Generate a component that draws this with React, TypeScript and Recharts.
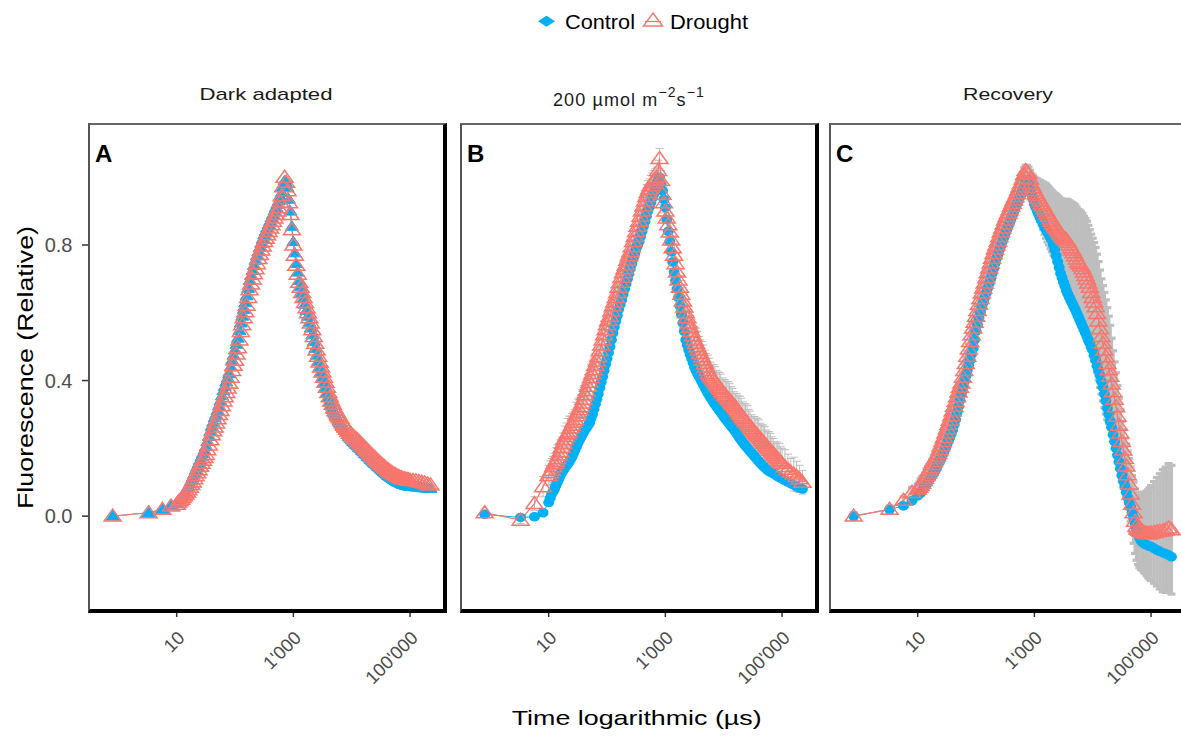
import React from "react";
import { ComposedChart, Line, XAxis, YAxis, ErrorBar } from "recharts";

// ---- data -------------------------------------------------------------
const TIMES_US = [
  0.8, 3.3, 5.7, 8,
  10, 10.6, 11.2, 11.9, 12.6, 13.3, 14.1, 15, 15.8, 16.8,
  17.8, 18.8, 20, 21.1, 22.4, 23.7, 25.1, 26.6, 28.2, 29.9,
  31.6, 33.5, 35.5, 37.6, 39.8, 42.2, 44.7, 47.3, 50.1, 53.1,
  56.2, 59.6, 63.1, 66.8, 70.8, 75, 79.4, 84.1, 89.1, 94.4,
  100, 106, 112, 119, 126, 133, 141, 150, 158, 168,
  178, 188, 200, 211, 224, 237, 251, 266, 282, 299,
  316, 335, 355, 376, 398, 422, 447, 473, 501, 531,
  562, 596, 631, 668, 708, 750, 794, 841, 891, 944,
  1000, 1059, 1122, 1189, 1259, 1334, 1413, 1496, 1585, 1679,
  1778, 1884, 1995, 2113, 2239, 2371, 2512, 2661, 2818, 2985,
  3162, 3350, 3548, 3758, 3981, 4217, 4467, 4732, 5012, 5309,
  5623, 5957, 6310, 6683, 7079, 7499, 7943, 8414, 8913, 9441,
  10000, 10593, 11220, 11885, 12589, 13335, 14125, 14962, 15849, 16788,
  17783, 18836, 19953, 21135, 22387, 23714, 25119, 26607, 28184, 29854,
  31623, 33497, 35481, 37584, 39811, 42170, 44668, 47315, 50119, 53088,
  56234, 59566, 63096, 66834, 70795, 74989, 79433, 84140, 89125, 94406,
  100000, 112202, 125893, 141254, 158489, 177828, 199526, 223872,
];

const A_CONTROL = [
  0.0, 0.01, 0.02, 0.03,
  0.04, 0.045, 0.05, 0.055, 0.06, 0.066, 0.072, 0.08, 0.088, 0.096,
  0.105, 0.115, 0.125, 0.135, 0.145, 0.155, 0.165, 0.175, 0.185, 0.195,
  0.205, 0.22, 0.235, 0.25, 0.265, 0.277, 0.29, 0.3, 0.312, 0.326,
  0.34, 0.355, 0.37, 0.383, 0.396, 0.408, 0.42, 0.44, 0.46, 0.475,
  0.49, 0.507, 0.525, 0.548, 0.57, 0.59, 0.61, 0.63, 0.65, 0.672,
  0.695, 0.71, 0.725, 0.74, 0.755, 0.768, 0.78, 0.793, 0.805, 0.818,
  0.83, 0.84, 0.85, 0.86, 0.87, 0.88, 0.89, 0.9, 0.91, 0.92,
  0.93, 0.942, 0.955, 0.972, 0.99, 0.982, 0.97, 0.935, 0.9, 0.855,
  0.81, 0.777, 0.745, 0.72, 0.695, 0.678, 0.66, 0.642, 0.625, 0.607,
  0.59, 0.572, 0.555, 0.535, 0.515, 0.495, 0.475, 0.457, 0.44, 0.425,
  0.41, 0.395, 0.38, 0.365, 0.35, 0.337, 0.325, 0.315, 0.305, 0.297,
  0.29, 0.282, 0.275, 0.267, 0.26, 0.253, 0.247, 0.241, 0.235, 0.23,
  0.225, 0.22, 0.216, 0.212, 0.208, 0.203, 0.199, 0.194, 0.19, 0.185,
  0.181, 0.176, 0.172, 0.167, 0.163, 0.159, 0.155, 0.151, 0.147, 0.143,
  0.139, 0.135, 0.131, 0.127, 0.124, 0.12, 0.117, 0.114, 0.111, 0.108,
  0.105, 0.102, 0.1, 0.098, 0.096, 0.094, 0.093, 0.091, 0.09, 0.089,
  0.088, 0.087, 0.086, 0.085, 0.084, 0.083, 0.082, 0.082,
];
const A_DROUGHT = [
  0.0, 0.01, 0.02, 0.03,
  0.035, 0.04, 0.045, 0.05, 0.055, 0.06, 0.065, 0.071, 0.078, 0.085,
  0.093, 0.101, 0.11, 0.119, 0.128, 0.137, 0.147, 0.156, 0.165, 0.173,
  0.182, 0.196, 0.21, 0.225, 0.24, 0.252, 0.263, 0.275, 0.287, 0.3,
  0.312, 0.326, 0.34, 0.352, 0.365, 0.378, 0.392, 0.41, 0.43, 0.445,
  0.46, 0.478, 0.497, 0.52, 0.545, 0.565, 0.585, 0.603, 0.622, 0.645,
  0.668, 0.685, 0.7, 0.715, 0.73, 0.745, 0.76, 0.772, 0.785, 0.797,
  0.81, 0.82, 0.83, 0.84, 0.85, 0.86, 0.87, 0.88, 0.89, 0.9,
  0.91, 0.927, 0.945, 0.972, 1.0, 0.985, 0.96, 0.925, 0.89, 0.845,
  0.8, 0.77, 0.74, 0.714, 0.69, 0.675, 0.66, 0.645, 0.63, 0.615,
  0.6, 0.585, 0.57, 0.55, 0.53, 0.51, 0.49, 0.472, 0.455, 0.44,
  0.425, 0.41, 0.395, 0.38, 0.365, 0.352, 0.34, 0.33, 0.32, 0.312,
  0.305, 0.297, 0.29, 0.282, 0.275, 0.268, 0.262, 0.256, 0.25, 0.245,
  0.24, 0.236, 0.232, 0.228, 0.225, 0.22, 0.216, 0.211, 0.207, 0.202,
  0.198, 0.193, 0.189, 0.184, 0.18, 0.176, 0.172, 0.167, 0.163, 0.159,
  0.155, 0.151, 0.147, 0.143, 0.14, 0.136, 0.133, 0.13, 0.127, 0.124,
  0.122, 0.119, 0.117, 0.115, 0.113, 0.111, 0.11, 0.109, 0.108, 0.107,
  0.106, 0.105, 0.104, 0.102, 0.1, 0.098, 0.095, 0.092,
];

const B_CONTROL = [
  0.005, -0.004, -0.002, 0.01,
  0.04, 0.053, 0.065, 0.072, 0.08, 0.09, 0.1, 0.11, 0.12, 0.128,
  0.135, 0.142, 0.148, 0.154, 0.16, 0.167, 0.175, 0.185, 0.195, 0.205,
  0.215, 0.224, 0.232, 0.24, 0.248, 0.255, 0.262, 0.268, 0.275, 0.288,
  0.3, 0.315, 0.33, 0.345, 0.36, 0.378, 0.395, 0.412, 0.43, 0.448,
  0.465, 0.482, 0.5, 0.52, 0.54, 0.558, 0.575, 0.592, 0.61, 0.624,
  0.638, 0.654, 0.67, 0.685, 0.7, 0.715, 0.73, 0.745, 0.76, 0.775,
  0.79, 0.8, 0.81, 0.825, 0.84, 0.855, 0.87, 0.885, 0.9, 0.912,
  0.925, 0.938, 0.95, 0.962, 0.975, 0.988, 1.0, 0.98, 0.96, 0.935,
  0.91, 0.875, 0.84, 0.81, 0.78, 0.75, 0.72, 0.695, 0.67, 0.645,
  0.62, 0.595, 0.57, 0.545, 0.52, 0.505, 0.49, 0.477, 0.465, 0.452,
  0.44, 0.43, 0.421, 0.413, 0.405, 0.396, 0.388, 0.38, 0.372, 0.364,
  0.357, 0.35, 0.343, 0.336, 0.33, 0.324, 0.318, 0.312, 0.306, 0.3,
  0.294, 0.288, 0.283, 0.277, 0.272, 0.266, 0.261, 0.255, 0.25, 0.243,
  0.237, 0.23, 0.224, 0.218, 0.213, 0.207, 0.202, 0.197, 0.192, 0.187,
  0.182, 0.177, 0.172, 0.167, 0.162, 0.157, 0.153, 0.148, 0.144, 0.14,
  0.136, 0.133, 0.13, 0.128, 0.126, 0.123, 0.12, 0.117, 0.115, 0.112,
  0.11, 0.105, 0.1, 0.096, 0.092, 0.087, 0.083, 0.08,
];
const B_DROUGHT = [
  0.01, -0.012, 0.037, 0.087,
  0.12, 0.128, 0.135, 0.146, 0.155, 0.162, 0.17, 0.18, 0.19, 0.203,
  0.215, 0.226, 0.235, 0.243, 0.25, 0.26, 0.268, 0.277, 0.285, 0.296,
  0.305, 0.314, 0.323, 0.334, 0.345, 0.358, 0.37, 0.383, 0.395, 0.408,
  0.42, 0.432, 0.445, 0.458, 0.47, 0.488, 0.505, 0.52, 0.535, 0.55,
  0.565, 0.578, 0.59, 0.605, 0.62, 0.632, 0.645, 0.66, 0.675, 0.69,
  0.705, 0.718, 0.73, 0.742, 0.755, 0.768, 0.78, 0.795, 0.81, 0.825,
  0.84, 0.855, 0.87, 0.885, 0.9, 0.915, 0.93, 0.943, 0.955, 0.965,
  0.975, 0.983, 0.99, 0.995, 1.0, 1.02, 1.055, 0.99, 0.95, 0.925,
  0.9, 0.88, 0.86, 0.838, 0.815, 0.792, 0.77, 0.745, 0.72, 0.697,
  0.675, 0.655, 0.635, 0.617, 0.6, 0.585, 0.57, 0.557, 0.545, 0.532,
  0.52, 0.51, 0.5, 0.49, 0.48, 0.47, 0.46, 0.45, 0.44, 0.43,
  0.421, 0.414, 0.408, 0.402, 0.396, 0.39, 0.385, 0.379, 0.374, 0.368,
  0.363, 0.357, 0.352, 0.347, 0.342, 0.337, 0.332, 0.327, 0.322, 0.316,
  0.31, 0.304, 0.298, 0.292, 0.287, 0.281, 0.276, 0.27, 0.265, 0.259,
  0.254, 0.249, 0.244, 0.239, 0.234, 0.229, 0.224, 0.219, 0.214, 0.209,
  0.204, 0.199, 0.194, 0.189, 0.184, 0.179, 0.174, 0.169, 0.164, 0.16,
  0.155, 0.146, 0.138, 0.13, 0.124, 0.117, 0.11, 0.1,
];
const B_DROUGHT_SE = [
  0.01, 0.01, 0.02, 0.03,
  0.03, 0.035, 0.035, 0.03, 0.03, 0.04, 0.04, 0.035, 0.035, 0.03,
  0.03, 0.04, 0.04, 0.045, 0.045, 0.035, 0.035, 0.03, 0.03, 0.04,
  0.04, 0.035, 0.035, 0.04, 0.04, 0.03, 0.03, 0.035, 0.035, 0.04,
  0.04, 0.035, 0.035, 0.03, 0.03, 0.035, 0.035, 0.04, 0.04, 0.035,
  0.035, 0.03, 0.03, 0.035, 0.035, 0.04, 0.04, 0.03, 0.03, 0.035,
  0.035, 0.03, 0.03, 0.04, 0.04, 0.035, 0.035, 0.03, 0.03, 0.03,
  0.03, 0.035, 0.035, 0.03, 0.03, 0.03, 0.03, 0.035, 0.035, 0.03,
  0.03, 0.03, 0.03, 0.03, 0.03, 0.03, 0.03, 0.03, 0.03, 0.03,
  0.03, 0.035, 0.035, 0.03, 0.03, 0.035, 0.035, 0.03, 0.03, 0.035,
  0.035, 0.04, 0.04, 0.035, 0.035, 0.04, 0.04, 0.035, 0.035, 0.04,
  0.04, 0.045, 0.045, 0.04, 0.04, 0.045, 0.045, 0.04, 0.04, 0.045,
  0.045, 0.04, 0.04, 0.045, 0.045, 0.04, 0.04, 0.045, 0.045, 0.04,
  0.04, 0.045, 0.045, 0.05, 0.05, 0.045, 0.045, 0.04, 0.04, 0.045,
  0.045, 0.05, 0.05, 0.045, 0.045, 0.05, 0.05, 0.045, 0.045, 0.04,
  0.04, 0.045, 0.045, 0.05, 0.05, 0.045, 0.045, 0.05, 0.05, 0.045,
  0.045, 0.05, 0.05, 0.045, 0.045, 0.04, 0.04, 0.05, 0.05, 0.045,
  0.045, 0.05, 0.045, 0.04, 0.05, 0.045, 0.04, 0.035,
];

const C_CONTROL = [
  0.0, 0.02, 0.03, 0.045,
  0.06, 0.064, 0.068, 0.074, 0.08, 0.086, 0.093, 0.1, 0.107, 0.113,
  0.12, 0.127, 0.135, 0.143, 0.152, 0.161, 0.17, 0.18, 0.19, 0.2,
  0.21, 0.221, 0.232, 0.243, 0.255, 0.27, 0.285, 0.304, 0.323, 0.342,
  0.362, 0.38, 0.397, 0.413, 0.43, 0.445, 0.46, 0.478, 0.495, 0.52,
  0.545, 0.565, 0.585, 0.601, 0.617, 0.631, 0.645, 0.658, 0.672, 0.686,
  0.7, 0.715, 0.73, 0.745, 0.76, 0.772, 0.785, 0.797, 0.81, 0.822,
  0.833, 0.844, 0.855, 0.866, 0.877, 0.888, 0.9, 0.91, 0.92, 0.93,
  0.94, 0.95, 0.96, 0.972, 0.985, 0.983, 0.98, 0.965, 0.95, 0.935,
  0.92, 0.91, 0.9, 0.89, 0.88, 0.871, 0.862, 0.853, 0.845, 0.837,
  0.83, 0.822, 0.815, 0.8, 0.785, 0.768, 0.75, 0.733, 0.716, 0.703,
  0.69, 0.678, 0.665, 0.655, 0.645, 0.636, 0.627, 0.618, 0.61, 0.6,
  0.59, 0.58, 0.57, 0.56, 0.55, 0.54, 0.53, 0.52, 0.51, 0.498,
  0.49, 0.475, 0.46, 0.443, 0.43, 0.415, 0.397, 0.38, 0.36, 0.34,
  0.318, 0.3, 0.28, 0.262, 0.24, 0.22, 0.2, 0.18, 0.16, 0.14,
  0.12, 0.103, 0.087, 0.07, 0.055, 0.04, 0.027, 0.01, -0.005, -0.02,
  -0.035, -0.048, -0.062, -0.072, -0.077, -0.08, -0.083, -0.085, -0.087, -0.089,
  -0.09, -0.095, -0.1, -0.104, -0.108, -0.111, -0.115, -0.12,
];
const C_DROUGHT = [
  0.0, 0.02, 0.047, 0.07,
  0.08, 0.085, 0.09, 0.097, 0.105, 0.112, 0.12, 0.127, 0.135, 0.143,
  0.152, 0.161, 0.17, 0.177, 0.185, 0.196, 0.208, 0.22, 0.232, 0.245,
  0.258, 0.27, 0.283, 0.296, 0.31, 0.324, 0.338, 0.352, 0.366, 0.38,
  0.393, 0.41, 0.43, 0.45, 0.472, 0.493, 0.515, 0.535, 0.555, 0.572,
  0.59, 0.607, 0.625, 0.642, 0.658, 0.673, 0.688, 0.703, 0.718, 0.732,
  0.747, 0.761, 0.775, 0.788, 0.8, 0.812, 0.825, 0.838, 0.85, 0.862,
  0.874, 0.884, 0.894, 0.904, 0.914, 0.923, 0.933, 0.942, 0.952, 0.962,
  0.972, 0.983, 0.995, 1.008, 1.02, 1.015, 1.01, 0.995, 0.98, 0.97,
  0.96, 0.952, 0.945, 0.937, 0.93, 0.922, 0.915, 0.907, 0.9, 0.892,
  0.885, 0.877, 0.87, 0.863, 0.857, 0.851, 0.845, 0.838, 0.832, 0.827,
  0.822, 0.818, 0.815, 0.808, 0.8, 0.792, 0.785, 0.777, 0.768, 0.759,
  0.75, 0.745, 0.738, 0.73, 0.72, 0.71, 0.7, 0.688, 0.675, 0.66,
  0.645, 0.632, 0.618, 0.598, 0.576, 0.553, 0.53, 0.51, 0.49, 0.47,
  0.45, 0.432, 0.413, 0.39, 0.368, 0.345, 0.323, 0.295, 0.268, 0.245,
  0.22, 0.195, 0.17, 0.148, 0.122, 0.095, 0.065, 0.035, 0.01, -0.015,
  -0.03, -0.038, -0.042, -0.044, -0.045, -0.048, -0.05, -0.051, -0.052, -0.051,
  -0.05, -0.048, -0.046, -0.045, -0.043, -0.04, -0.035, -0.04,
];
const C_DROUGHT_SE = [
  0.01, 0.01, 0.01, 0.015,
  0.015, 0.015, 0.02, 0.02, 0.015, 0.015, 0.02, 0.02, 0.015, 0.015,
  0.015, 0.015, 0.02, 0.02, 0.015, 0.015, 0.02, 0.02, 0.015, 0.015,
  0.015, 0.015, 0.02, 0.02, 0.015, 0.015, 0.02, 0.02, 0.015, 0.015,
  0.015, 0.015, 0.02, 0.02, 0.015, 0.015, 0.02, 0.02, 0.015, 0.015,
  0.015, 0.015, 0.02, 0.02, 0.015, 0.015, 0.02, 0.02, 0.015, 0.015,
  0.015, 0.015, 0.02, 0.02, 0.015, 0.015, 0.02, 0.02, 0.015, 0.015,
  0.015, 0.015, 0.02, 0.02, 0.015, 0.015, 0.02, 0.02, 0.015, 0.015,
  0.015, 0.015, 0.02, 0.02, 0.015, 0.02, 0.02, 0.025, 0.03, 0.035,
  0.04, 0.045, 0.05, 0.055, 0.06, 0.065, 0.07, 0.075, 0.08, 0.083,
  0.085, 0.088, 0.09, 0.093, 0.095, 0.098, 0.1, 0.103, 0.105, 0.108,
  0.11, 0.115, 0.12, 0.125, 0.13, 0.135, 0.14, 0.145, 0.15, 0.153,
  0.155, 0.158, 0.16, 0.163, 0.165, 0.168, 0.17, 0.17, 0.17, 0.172,
  0.175, 0.175, 0.175, 0.175, 0.175, 0.173, 0.17, 0.17, 0.17, 0.168,
  0.165, 0.158, 0.15, 0.135, 0.12, 0.11, 0.1, 0.09, 0.08, 0.07,
  0.06, 0.06, 0.06, 0.065, 0.07, 0.075, 0.08, 0.085, 0.09, 0.095,
  0.1, 0.105, 0.11, 0.113, 0.115, 0.118, 0.12, 0.125, 0.13, 0.135,
  0.14, 0.15, 0.16, 0.17, 0.18, 0.185, 0.19, 0.19,
];

const X_TICKS = [10, 1000, 100000];
const X_TICK_LABELS = ["10", "1'000", "100'000"];
const Y_TICKS = [0, 0.4, 0.8];
const Y_TICK_LABELS = ["0.0", "0.4", "0.8"];
const X_DOMAIN = [0.314, 367000];
const Y_DOMAIN = [-0.277, 1.157];

const SERIES_NAMES = ["Control", "Drought"];
const PANEL_LETTERS = ["A", "B", "C"];

// ---- style ------------------------------------------------------------
const BLUE = "#00B0F6";
const RED = "#F8766D";
const GREY = "#BEBEBE";
const FONT = '"Liberation Sans", Arial, sans-serif';

type Row = { t: number; c: number; d: number; e: number };
const makeRows = (c: number[], d: number[], e?: number[]): Row[] =>
  TIMES_US.map((t, i) => ({ t, c: c[i], d: d[i], e: e ? e[i] : 0 }));

const PANELS = [
  { letter: PANEL_LETTERS[0], offset: 0, rows: makeRows(A_CONTROL, A_DROUGHT), err: false, ctrlShape: "tri", errW: 1.5 },
  { letter: PANEL_LETTERS[1], offset: 372, rows: makeRows(B_CONTROL, B_DROUGHT, B_DROUGHT_SE), err: true, ctrlShape: "circle", errW: 1 },
  { letter: PANEL_LETTERS[2], offset: 741, rows: makeRows(C_CONTROL, C_DROUGHT, C_DROUGHT_SE), err: true, ctrlShape: "circle", errW: 3.2 },
];

const OpenTri = (p: any) => {
  const { cx, cy, index } = p;
  if (cx == null || cy == null) return <g key={`t-${index}`} />;
  return (
    <path
      key={`t-${index}`}
      d={`M${cx},${cy - 7} L${cx + 8.5},${cy + 5} L${cx - 8.5},${cy + 5} Z`}
      fill="none"
      stroke={RED}
      strokeWidth={1.5}
    />
  );
};
const FilledTri = (p: any) => {
  const { cx, cy, index } = p;
  if (cx == null || cy == null) return <g key={`f-${index}`} />;
  return (
    <path
      key={`f-${index}`}
      d={`M${cx},${cy - 5.5} L${cx + 6.5},${cy + 4} L${cx - 6.5},${cy + 4} Z`}
      fill={BLUE}
      stroke={BLUE}
      strokeWidth={1}
    />
  );
};
const BlueDot = (p: any) => {
  const { cx, cy, index } = p;
  if (cx == null || cy == null) return <g key={`c-${index}`} />;
  return <ellipse key={`c-${index}`} cx={cx} cy={cy} rx={5.5} ry={4.8} fill={BLUE} />;
};

const XTick = (props: any) => {
  const { x, y, payload } = props;
  const i = X_TICKS.indexOf(payload.value);
  const ax = x + 9;
  const ay = y + 20;
  return (
    <text x={ax} y={ay} transform={`rotate(-45 ${ax} ${ay})`} textAnchor="end" fontSize={18.5} fill="#4d4d4d" fontFamily={FONT}>
      {X_TICK_LABELS[i]}
    </text>
  );
};
const YTick = (props: any) => {
  const { x, y, payload } = props;
  const i = Y_TICKS.indexOf(payload.value);
  return (
    <text x={x - 7.5} y={y} dy="0.36em" textAnchor="end" fontSize={20} fill="#4d4d4d" fontFamily={FONT}>
      {Y_TICK_LABELS[i]}
    </text>
  );
};

const Panel = ({ panel, showY }: { panel: (typeof PANELS)[number]; showY: boolean }) => (
  <div style={{ position: "absolute", left: panel.offset, top: 0, width: 453, height: 738 }}>
    <ComposedChart width={453} height={738} data={panel.rows} margin={{ top: 124, right: 10, bottom: 68, left: 0 }}>
      <XAxis
        dataKey="t"
        type="number"
        scale="log"
        domain={X_DOMAIN}
        allowDataOverflow
        ticks={X_TICKS}
        interval={0}
        tick={<XTick />}
        tickSize={7}
        tickLine={{ stroke: "#333", strokeWidth: 1.5 }}
        axisLine={false}
        height={60}
      />
      <YAxis
        type="number"
        domain={Y_DOMAIN}
        allowDataOverflow
        ticks={Y_TICKS}
        interval={0}
        width={89}
        tick={showY ? <YTick /> : false}
        tickSize={7}
        tickLine={showY ? { stroke: "#333", strokeWidth: 1.5 } : false}
        axisLine={false}
      />
      {panel.err && (
        <Line dataKey="d" stroke="none" dot={false} activeDot={false} isAnimationActive={false} legendType="none">
          <ErrorBar dataKey="e" direction="y" width={4} stroke={GREY} strokeWidth={panel.errW} />
        </Line>
      )}
      <Line
        name={SERIES_NAMES[0]}
        dataKey="c"
        type="linear"
        stroke={BLUE}
        strokeWidth={1}
        dot={panel.ctrlShape === "tri" ? (p: any) => <FilledTri {...p} key={`f-${p.index}`} /> : (p: any) => <BlueDot {...p} key={`c-${p.index}`} />}
        activeDot={false}
        isAnimationActive={false}
      />
      <Line
        name={SERIES_NAMES[1]}
        dataKey="d"
        type="linear"
        stroke={RED}
        strokeWidth={1.2}
        dot={(p: any) => <OpenTri {...p} key={`t-${p.index}`} />}
        activeDot={false}
        isAnimationActive={false}
      />
    </ComposedChart>
    <div
      style={{
        position: "absolute",
        left: 88,
        top: 123,
        width: 359,
        height: 490,
        boxSizing: "border-box",
        borderTop: "2px solid #666",
        borderLeft: "2px solid #555",
        borderRight: "4px solid #000",
        borderBottom: "4px solid #000",
        pointerEvents: "none",
      }}
    />
    <svg width={453} height={738} style={{ position: "absolute", left: 0, top: 0, pointerEvents: "none" }}>
      <text x={95} y={162} fontSize={24} fontWeight="bold" fill="#000" fontFamily={FONT}>
        {panel.letter}
      </text>
    </svg>
  </div>
);

export default function App() {
  return (
    <div
      style={{
        position: "absolute",
        left: 0,
        top: 0,
        width: 1181,
        height: 738,
        overflow: "hidden",
        background: "#fff",
        fontFamily: FONT,
      }}
    >
      <svg width={1181} height={738} style={{ position: "absolute", left: 0, top: 0 }}>
        {/* legend */}
        <path d="M538,21.3 L546.5,15.8 L555,21.3 L546.5,26.8 Z" fill={BLUE} />
        <text x={565} y={28.5} fontSize={20} fill="#000" textLength={70} lengthAdjust="spacingAndGlyphs" fontFamily={FONT}>
          {SERIES_NAMES[0]}
        </text>
        <path d="M653,13 L662.5,26 L643.5,26 Z" fill="none" stroke={RED} strokeWidth={1.4} />
        <line x1={645} y1={21.5} x2={661} y2={21.5} stroke={RED} strokeWidth={1.2} />
        <text x={670} y={28.5} fontSize={20} fill="#000" textLength={78} lengthAdjust="spacingAndGlyphs" fontFamily={FONT}>
          {SERIES_NAMES[1]}
        </text>

        {/* strip labels */}
        <text x={266} y={100} fontSize={17} fill="#1a1a1a" textAnchor="middle" textLength={133} lengthAdjust="spacingAndGlyphs" fontFamily={FONT}>
          Dark adapted
        </text>
        <text x={553} y={106} fontSize={18} fill="#1a1a1a" letterSpacing={1.1} fontFamily={FONT}>
          200 µmol m
          <tspan dy={-9} fontSize={14}>−2</tspan>
          <tspan dy={9} fontSize={18}>s</tspan>
          <tspan dy={-9} fontSize={14}>−1</tspan>
        </text>
        <text x={1008} y={100} fontSize={17} fill="#1a1a1a" textAnchor="middle" textLength={90} lengthAdjust="spacingAndGlyphs" fontFamily={FONT}>
          Recovery
        </text>

        {/* axis titles */}
        <text x={636.7} y={725} fontSize={21} fill="#000" textAnchor="middle" textLength={250} lengthAdjust="spacingAndGlyphs" fontFamily={FONT}>
          Time logarithmic (µs)
        </text>
        <text
          x={33}
          y={367.5}
          transform="rotate(-90 33 367.5)"
          fontSize={22}
          fill="#000"
          textAnchor="middle"
          textLength={283}
          lengthAdjust="spacingAndGlyphs"
          fontFamily={FONT}
        >
          Fluorescence (Relative)
        </text>
      </svg>
      {PANELS.map((p, i) => (
        <Panel key={p.letter} panel={p} showY={i === 0} />
      ))}
    </div>
  );
}
